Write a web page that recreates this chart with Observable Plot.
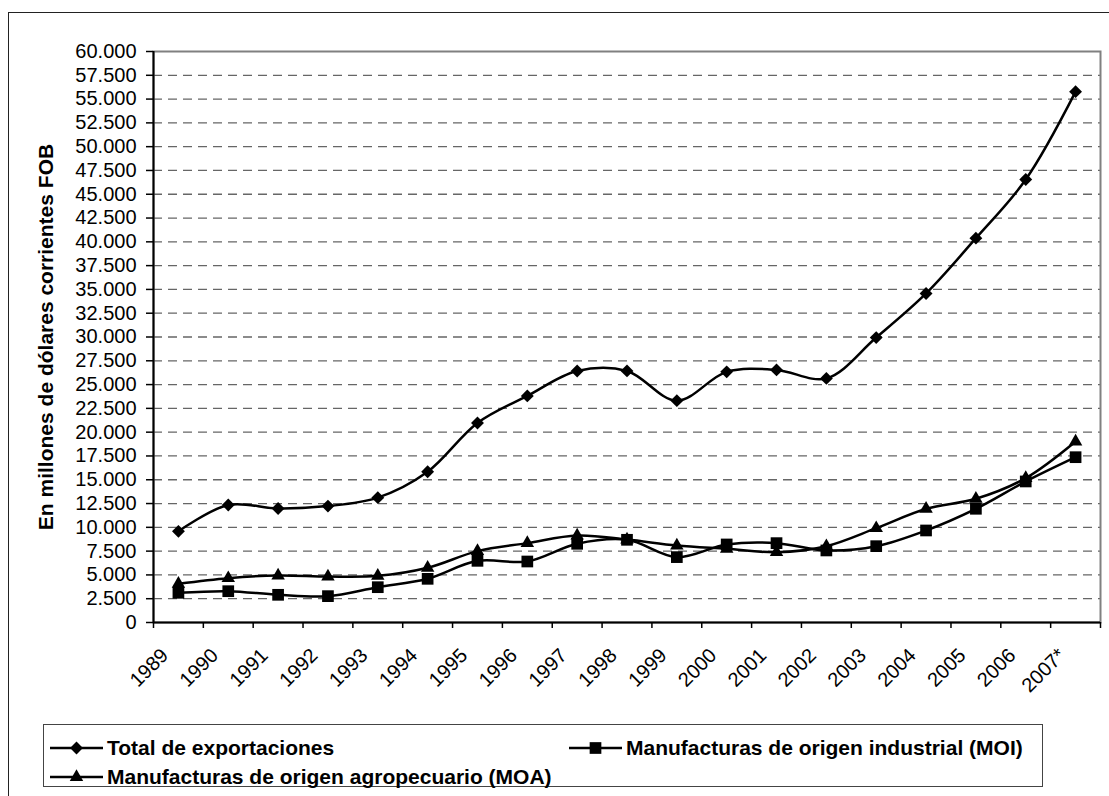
<!DOCTYPE html>
<html><head><meta charset="utf-8">
<script src="https://cdn.jsdelivr.net/npm/d3@7"></script>
<script src="https://cdn.jsdelivr.net/npm/@observablehq/plot@0.6"></script>
<style>
body{margin:0;background:#fff;overflow:hidden;width:1109px;height:796px;position:relative;font-family:"Liberation Sans",Arial,sans-serif;}
#frame{position:absolute;left:8px;top:12px;width:1300px;height:1000px;border:1.5px solid #222;}
#chart{position:absolute;left:0;top:0;}
#legend{position:absolute;left:43px;top:724px;width:998px;height:61px;border:1px solid #444;background:#fff;}
.item{position:absolute;display:flex;align-items:center;font-weight:bold;font-size:21px;white-space:nowrap;height:24px;}
.item svg{margin-right:4px;}
</style></head><body>
<div id="frame"></div><div id="chart"></div><div id="legend"></div>
<script>
const years = ["1989","1990","1991","1992","1993","1994","1995","1996","1997","1998","1999","2000","2001","2002","2003","2004","2005","2006","2007*"];
const total = [9580, 12350, 11980, 12235, 13120, 15840, 20965, 23810, 26430, 26435, 23310, 26340, 26545, 25650, 29940, 34575, 40385, 46545, 55780];
const moi = [3120, 3290, 2910, 2770, 3710, 4590, 6480, 6410, 8270, 8690, 6870, 8200, 8340, 7570, 8020, 9670, 11950, 14820, 17370];
const moa = [4070, 4660, 4940, 4830, 4900, 5750, 7500, 8340, 9140, 8720, 8090, 7740, 7390, 8020, 9910, 11950, 13000, 15170, 19020];
const seriesNames = ["Total de exportaciones", "Manufacturas de origen industrial (MOI)", "Manufacturas de origen agropecuario (MOA)"];
const seriesSymbols = ["diamond2", "square", "triangle"];
const yTicks = d3.range(0, 60001, 2500);
const yTitle = "En millones de dólares corrientes FOB";

const seriesValues = [total, moi, moa];
const data = [];
seriesValues.forEach((vals, s) => vals.forEach((v, i) => data.push({i, year: years[i], series: seriesNames[s], value: v})));
const xPos = d => d.i + 0.5;
const fmt = d => d3.format(",")(d).replace(/,/g, ".");
const symR = {"diamond2": 5.8, "square": 6.6, "triangle": 5};

const chart = Plot.plot({
  width: 1109, height: 700,
  marginLeft: 153, marginRight: 9, marginTop: 51, marginBottom: 78,
  style: {fontFamily: '"Liberation Sans", Arial, sans-serif', fontSize: "20px", background: "none", color: "#000", overflow: "visible"},
  x: {type: "linear", domain: [0, years.length]},
  y: {domain: [0, 60000]},
  marks: [
    Plot.gridY(yTicks.filter(v => v > 0 && v < 60000), {stroke: "#666", strokeOpacity: 1, strokeDasharray: "9,6", strokeWidth: 1.3}),
    Plot.frame({stroke: "#808080", strokeWidth: 2}),
    Plot.axisY(yTicks, {tickSize: 7, tickPadding: 10, tickFormat: fmt, label: null, strokeWidth: 1.5, fontSize: 20}),
    Plot.axisX(d3.range(years.length + 1), {tickSize: 6, tickFormat: () => "", label: null, strokeWidth: 1.5}),
    Plot.axisX(d3.range(years.length).map(i => i + 0.5), {tickSize: 0, tickPadding: 24, dx: -19, tickFormat: d => years[Math.floor(d)], rotate: -45, textAnchor: "end", label: null, fontSize: 20}),
    Plot.ruleX([0], {stroke: "#000", strokeWidth: 2}),
    Plot.ruleY([0], {stroke: "#000", strokeWidth: 2}),
    Plot.line(data, {x: xPos, y: "value", z: "series", curve: "catmull-rom", stroke: "#000", strokeWidth: 2.5}),
    ...seriesNames.map((name, s) => Plot.dot(data.filter(d => d.series === name), {x: xPos, y: "value", symbol: seriesSymbols[s], r: symR[seriesSymbols[s]], fill: "#000", stroke: "none"})),
    Plot.text([yTitle], {frameAnchor: "left", dx: -107, rotate: -90, textAnchor: "middle", lineAnchor: "middle", fontWeight: "bold", fontSize: 21, text: d => d})
  ]
});
document.getElementById("chart").appendChild(chart);

// Legend
const legend = document.getElementById("legend");
const d3Sym = {"diamond2": d3.symbolDiamond2, "square": d3.symbolSquare, "triangle": d3.symbolTriangle};
const legendPos = [[6, 11], [525, 11], [6, 40]];
seriesNames.forEach((name, s) => {
  const item = document.createElement("div");
  item.className = "item";
  item.style.left = legendPos[s][0] + "px";
  item.style.top = legendPos[s][1] + "px";
  const svg = d3.create("svg").attr("width", 53).attr("height", 20);
  svg.append("line").attr("x1", 0).attr("x2", 53).attr("y1", 10).attr("y2", 10).attr("stroke", "#000").attr("stroke-width", 2.5);
  const r = symR[seriesSymbols[s]];
  svg.append("path").attr("transform", "translate(26.5,10)").attr("d", d3.symbol(d3Sym[seriesSymbols[s]], Math.PI * r * r)()).attr("fill", "#000");
  item.appendChild(svg.node());
  const span = document.createElement("span");
  span.textContent = name;
  item.appendChild(span);
  legend.appendChild(item);
});
</script>
</body></html>
